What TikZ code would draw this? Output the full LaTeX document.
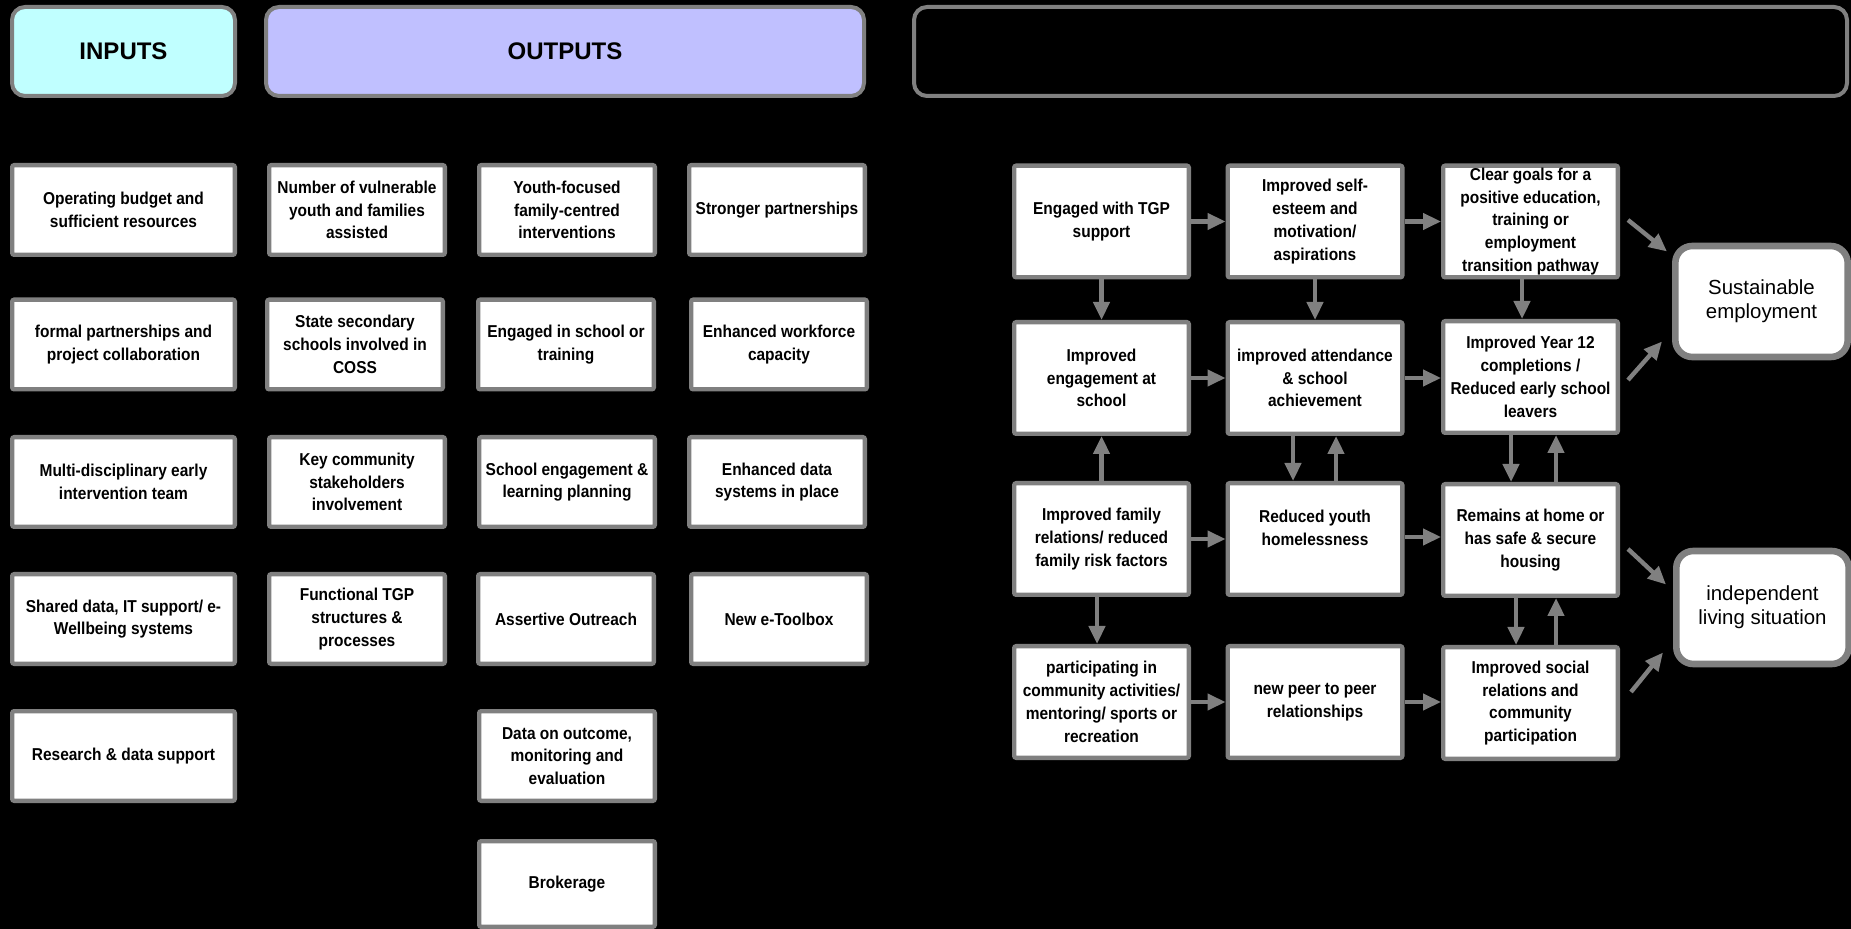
\documentclass[tikz,border=0pt]{standalone}
\usepackage{fontspec}
\setmainfont{Liberation Sans}
\newfontfamily\bxfont{Liberation Sans}[FakeStretch=0.9]
\usetikzlibrary{arrows.meta,calc}
\definecolor{bord}{RGB}{128,128,128}
\definecolor{incyan}{RGB}{192,255,255}
\definecolor{outblue}{RGB}{192,192,255}
\tikzset{
  hdr/.style={draw=bord, line width=2pt, rounded corners=6.5pt, minimum height=44.5pt,
    inner sep=0pt, font=\bfseries\fontsize{12}{14}\selectfont},
  lbox/.style={draw=bord, fill=white, line width=2.2pt, rounded corners=1pt,
    minimum width=87.8pt, minimum height=44.8pt, align=center, inner sep=0pt,
    font=\bxfont\bfseries\fontsize{8.6}{11.4}\selectfont},
  ibox/.style={lbox, minimum width=111.3pt},
  rbox/.style={lbox, minimum width=87.3pt, minimum height=55.8pt},
  obox/.style={draw=bord, fill=white, line width=3.3pt, rounded corners=8.5pt,
    minimum width=86.2pt, minimum height=55.5pt, align=center, inner sep=0pt,
    font=\fontsize{10.2}{12}\selectfont},
  arr/.style={draw=bord, line width=2.2pt, -{Triangle[length=9pt,width=8pt]}},
}
\begin{document}
\begin{tikzpicture}[x=0.5pt,y=-0.5pt]
\fill[black] (0,0) rectangle (1851,929);
\useasboundingbox (0,0) rectangle (1851,929);

% headers
\node[hdr, fill=incyan, minimum width=111.5pt] (hin) at (123.5,51.5) {INPUTS};
\node[hdr, fill=outblue, minimum width=299pt] (hout) at (565,51.5) {OUTPUTS};
\node[hdr, fill=black, minimum width=466.5pt] (hoc) at (1380.5,51.5) {};

% inputs
\node[ibox] (i1) at (123.5,210) {Operating budget and\\sufficient resources};
\node[ibox] (i2) at (123.5,344.5) {formal partnerships and\\project collaboration};
\node[ibox] (i3) at (123.5,482) {Multi-disciplinary early\\intervention team};
\node[ibox] (i4) at (123.5,619) {Shared data, IT support/ e-\\Wellbeing systems};
\node[ibox] (i5) at (123.5,756) {Research \& data support};

% outputs column 1
\node[lbox] (o11) at (357,210) {Number of vulnerable\\youth and families\\assisted};
\node[lbox] (o12) at (355,344.5) {State secondary\\schools involved in\\COSS};
\node[lbox] (o13) at (357,482) {Key community\\stakeholders\\involvement};
\node[lbox] (o14) at (357,619) {Functional TGP\\structures \&\\processes};

% outputs column 2
\node[lbox] (o21) at (567,210) {Youth-focused\\family-centred\\interventions};
\node[lbox] (o22) at (566,344.5) {Engaged in school or\\training};
\node[lbox] (o23) at (567,482) {School engagement \&\\learning planning};
\node[lbox] (o24) at (566,619) {Assertive Outreach};
\node[lbox] (o25) at (567,756) {Data on outcome,\\monitoring and\\evaluation};
\node[lbox, minimum height=42.8pt] (o26) at (567,884) {Brokerage};

% outputs column 3
\node[lbox] (o31) at (777,210) {Stronger partnerships};
\node[lbox] (o32) at (779,344.5) {Enhanced workforce\\capacity};
\node[lbox] (o33) at (777,482) {Enhanced data\\systems in place};
\node[lbox] (o34) at (779,619) {New e-Toolbox};

% outcomes grid
\node[rbox] (A1) at (1101.5,221.5) {Engaged with TGP\\support};
\node[rbox] (B1) at (1315,221.5) {Improved self-\\esteem and\\motivation/\\aspirations};
\node[rbox] (C1) at (1530.5,221.5) {Clear goals for a\\positive education,\\training or\\employment\\transition pathway};
\node[rbox] (A2) at (1101.5,378) {Improved\\engagement at\\school};
\node[rbox] (B2) at (1315,378) {improved attendance\\\& school\\achievement};
\node[rbox] (C2) at (1530.5,377) {Improved Year 12\\completions /\\Reduced early school\\leavers};
\node[rbox] (A3) at (1101.5,539) {Improved family\\relations/ reduced\\family risk factors};
\node[rbox] (B3) at (1315,539) {Reduced youth\\homelessness\\~};
\node[rbox] (C3) at (1530.5,540) {Remains at home or\\has safe \& secure\\housing};
\node[rbox] (A4) at (1101.5,702) {participating in\\community activities/\\mentoring/ sports or\\recreation};
\node[rbox] (B4) at (1315,702) {new peer to peer\\relationships};
\node[rbox] (C4) at (1530.5,703) {Improved social\\relations and\\community\\participation};

% final outcomes
\node[obox] (S) at (1761.5,301.5) {Sustainable\\employment};
\node[obox, minimum height=56.5pt] (I) at (1762.5,607.5) {independent\\living situation};

% horizontal arrows
\draw[arr] (A1.east) -- (B1.west);
\draw[arr] (B1.east) -- (B1.east -| C1.west);
\draw[arr] (A2.east) -- (B2.west);
\draw[arr] (B2.east) -- (B2.east -| C2.west);
\draw[arr] (A3.east) -- (B3.west);
\draw[arr] ([yshift=1pt]B3.east) -- ([yshift=1pt]B3.east -| C3.west);
\draw[arr] (A4.east) -- (B4.west);
\draw[arr] (B4.east) -- (B4.east -| C4.west);

% vertical arrows
\draw[arr] (A1.south) -- (A2.north);
\draw[arr] (B1.south) -- (B2.north);
\draw[arr] ([xshift=-4.25pt]C1.south) -- ([xshift=-4.25pt]C1.south |- C2.north);
\draw[arr] (A3.north) -- (A2.south);
\draw[arr] ([xshift=-11pt]B2.south) -- ([xshift=-11pt]B3.north);
\draw[arr] ([xshift=10.5pt]B3.north) -- ([xshift=10.5pt]B2.south);
\draw[arr] ([xshift=-9.75pt]C2.south) -- ([xshift=-9.75pt]C2.south |- C3.north);
\draw[arr] ([xshift=12.75pt]C3.north) -- ([xshift=12.75pt]C3.north |- C2.south);
\draw[arr] ([xshift=-2.25pt]A3.south) -- ([xshift=-2.25pt]A4.north);
\draw[arr] ([xshift=-7.25pt]C3.south) -- ([xshift=-7.25pt]C3.south |- C4.north);
\draw[arr] ([xshift=12.75pt]C4.north) -- ([xshift=12.75pt]C4.north |- C3.south);

% diagonal arrows to final outcomes
\draw[arr] ($(C1.east)+(8,-1.5)$) -- ($(S.west)+(-5,-50)$);
\draw[arr] ($(C2.east)+(8,3)$) -- ($(S.west)+(-10,40)$);
\draw[arr] ($(C3.east)+(8,9)$) -- ($(I.west)+(-7,-23)$);
\draw[arr] ($(C4.east)+(11,-11)$) -- ($(I.west)+(-10,45)$);
\end{tikzpicture}
\end{document}
